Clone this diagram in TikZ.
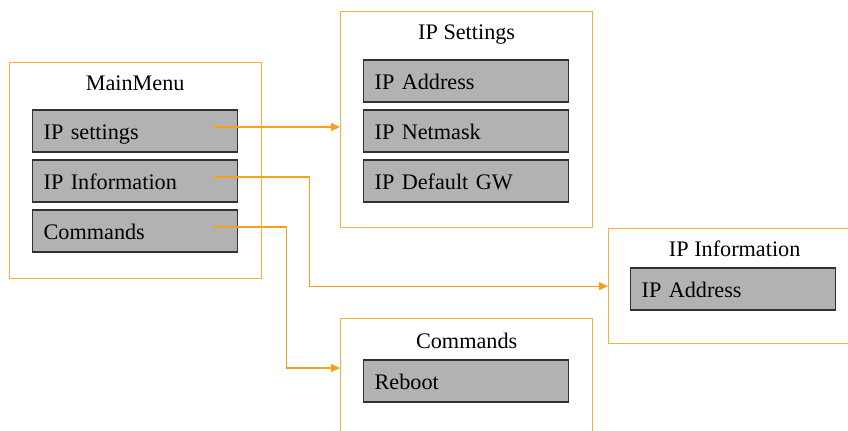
\documentclass[tikz,border=0pt]{standalone}
\usepackage{fontspec}
\setmainfont{Liberation Serif}
\usetikzlibrary{arrows.meta,positioning}
\definecolor{frameorange}{RGB}{250,175,60}
\definecolor{linkorange}{RGB}{246,160,30}
\definecolor{itemgray}{RGB}{178,178,178}
\definecolor{itemedge}{RGB}{50,50,50}
\begin{document}
\begin{tikzpicture}[x=0.025cm, y=-0.025cm,
    font=\fontsize{15.8}{19}\selectfont,
    menuframe/.style={draw=frameorange, line width=0.9pt, anchor=north west, minimum width=6.3cm, inner sep=0pt},
    menuitem/.style={draw=itemedge, fill=itemgray, line width=0.9pt, anchor=west, minimum height=1.05cm, inner ysep=0pt, inner xsep=0.275cm, text width=4.575cm, text height=0.55cm, text depth=0.135cm, align=left},
    menutitle/.style={inner sep=0pt},
    link/.style={draw=linkorange, line width=0.8pt, -{Triangle[length=0.22cm,width=0.2cm]}}]
    \clip (0,0) rectangle (848,430);
    \useasboundingbox (0,0) rectangle (848,430);

    % frames
    \node[menuframe, minimum width=6.3cm, minimum height=5.4cm] (mainframe) at (8.5,61.5) {};
    \node[menuframe, minimum height=5.4cm] (setframe) at (340,11) {};
    \node[menuframe, minimum height=2.875cm] (infoframe) at (608,228) {};
    \node[menuframe, minimum height=5.4cm] (cmdframe) at (340,318) {};

    \node[menutitle] (maintitle) at ([yshift=-0.54cm]mainframe.north) {MainMenu};
    \node[menutitle] (settitle) at ([yshift=-0.6cm]setframe.north) {IP Settings};
    \node[menutitle] (infotitle) at ([yshift=-0.53cm]infoframe.north) {IP Information};
    \node[menutitle] (cmdtitle) at ([yshift=-0.56cm]cmdframe.north) {Commands};

    % entries
    \node[menuitem] (ipset) at (32,131) {IP settings};
    \node[menuitem] (ipinfo) at (32,181) {IP Information};
    \node[menuitem] (cmdsel) at (32,231) {Commands};

    \node[menuitem] (setaddr) at (363,81) {IP Address};
    \node[menuitem] (setmask) at (363,131) {IP Netmask};
    \node[menuitem] (setgw) at (363,181) {IP Default GW};

    \node[menuitem] (infoaddr) at (630,289) {IP Address};

    \node[menuitem] (reboot) at (363,381) {Reboot};

    % links
    \draw[link] ([xshift=-0.6cm,yshift=0.1cm]ipset.east) coordinate (s1) -- (s1 -| setframe.west);
    \draw[link] ([xshift=-0.6cm,yshift=0.1cm]ipinfo.east) -- ++(95,0) |- (infoframe.west);
    \draw[link] ([xshift=-0.6cm,yshift=0.1cm]cmdsel.east) -- ++(72,0) |- ([yshift=-1.25cm]cmdframe.north west);
\end{tikzpicture}
\end{document}
